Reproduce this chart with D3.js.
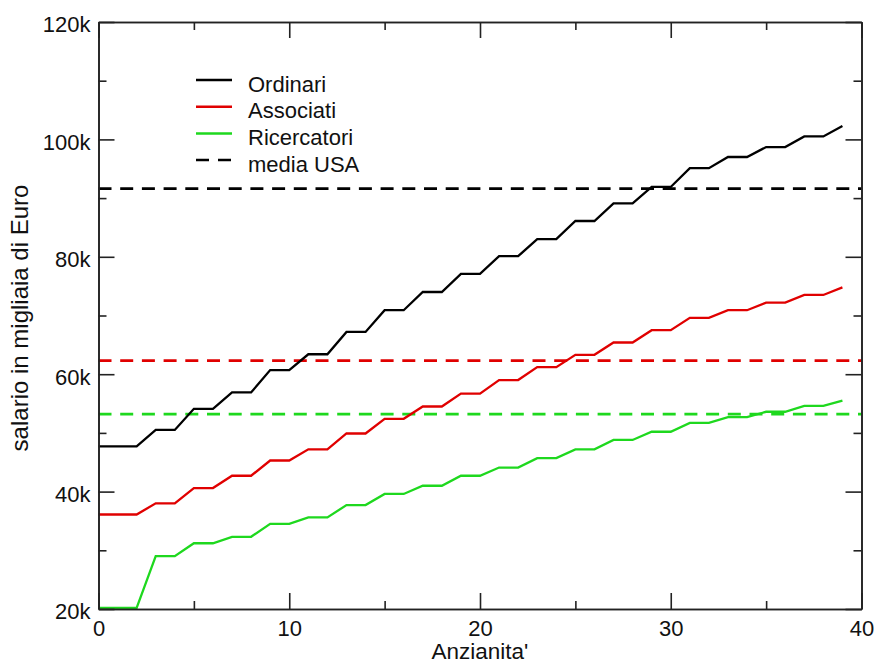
<!DOCTYPE html>
<html lang="it">
<head>
<meta charset="UTF-8">
<title>Salari</title>
<script src="https://d3js.org/d3.v7.min.js"></script>
<style>
  body { margin: 0; background: #fff; }
  text { font-family: "Liberation Sans", Arial, sans-serif; }
</style>
</head>
<body>
<script>
// anni di anzianita'
var anni = [0, 1, 2, 3, 4, 5, 6, 7, 8, 9, 10, 11, 12, 13, 14, 15, 16, 17, 18, 19,
            20, 21, 22, 23, 24, 25, 26, 27, 28, 29, 30, 31, 32, 33, 34, 35, 36, 37, 38, 39];
// salari in migliaia di euro
var ordinari = [47.7, 47.7, 47.7, 50.5, 50.5, 54.1, 54.1, 56.9, 56.9, 60.7, 60.7, 63.4, 63.4,
                67.2, 67.2, 70.9, 70.9, 74.0, 74.0, 77.1, 77.1, 80.1, 80.1, 83.0, 83.0, 86.1, 86.1,
                89.1, 89.1, 91.9, 91.9, 95.1, 95.1, 97.0, 97.0, 98.7, 98.7, 100.5, 100.5, 102.3];
var associati = [36.1, 36.1, 36.1, 38.0, 38.0, 40.6, 40.6, 42.7, 42.7, 45.3, 45.3, 47.2, 47.2,
                 49.9, 49.9, 52.4, 52.4, 54.5, 54.5, 56.7, 56.7, 59.0, 59.0, 61.2, 61.2, 63.3, 63.3,
                 65.4, 65.4, 67.5, 67.5, 69.6, 69.6, 70.9, 70.9, 72.2, 72.2, 73.5, 73.5, 74.8];
var ricercatori = [20.2, 20.2, 20.2, 29.0, 29.0, 31.2, 31.2, 32.3, 32.3, 34.5, 34.5, 35.6, 35.6,
                   37.7, 37.7, 39.6, 39.6, 41.0, 41.0, 42.7, 42.7, 44.1, 44.1, 45.7, 45.7, 47.2, 47.2,
                   48.8, 48.8, 50.2, 50.2, 51.7, 51.7, 52.7, 52.7, 53.6, 53.6, 54.6, 54.6, 55.5];
// media USA per ciascuna categoria
var mediaUSA = [91.6, 62.3, 53.2];
var nomi = ["Ordinari", "Associati", "Ricercatori"];
var colori = ["#000000", "#e00000", "#1ed81e"];
var xTicks = [0, 10, 20, 30, 40];
var xMinor = [5, 15, 25, 35];
var yTicks = [20, 40, 60, 80, 100, 120];
var yMinor = [30, 50, 70, 90, 110];

var width = 877, height = 663;
var margin = {top: 22, right: 15.5, bottom: 54, left: 98.5};

var svg = d3.select("body").append("svg")
    .attr("width", width)
    .attr("height", height);

var x = d3.scaleLinear().domain([0, 40]).range([margin.left, width - margin.right]);
var y = d3.scaleLinear().domain([20, 120]).range([height - margin.bottom, margin.top]);

var serie = [ordinari, associati, ricercatori];

var line = d3.line()
    .x(function(d, i) { return x(anni[i]); })
    .y(function(d) { return y(d); });

// medie USA tratteggiate
svg.selectAll(".media").data(mediaUSA).enter().append("line")
    .attr("class", "media")
    .attr("x1", x(0)).attr("x2", x(40))
    .attr("y1", function(d) { return y(d); })
    .attr("y2", function(d) { return y(d); })
    .attr("stroke", function(d, i) { return colori[i]; })
    .attr("stroke-width", 2.8)
    .attr("stroke-dasharray", "13,8.7");

// curve salariali
svg.selectAll(".serie").data(serie).enter().append("path")
    .attr("class", "serie")
    .attr("d", line)
    .attr("fill", "none")
    .attr("stroke", function(d, i) { return colori[i]; })
    .attr("stroke-width", 2.3)
    .attr("stroke-linejoin", "miter");

// assi
function stile(g) {
    g.selectAll("path").attr("stroke", "#222").attr("stroke-width", 1.6);
    g.selectAll("line").attr("stroke", "#222").attr("stroke-width", 1.6);
    g.selectAll("text").attr("font-size", 22).attr("fill", "#111");
}
var y0 = height - margin.bottom, x0 = margin.left, x1 = width - margin.right;

svg.append("g").attr("transform", "translate(0," + y0 + ")")
    .call(d3.axisBottom(x).tickValues(xTicks).tickSize(-16).tickPadding(11).tickSizeOuter(0))
    .call(stile);
svg.append("g").attr("transform", "translate(0," + y0 + ")")
    .call(d3.axisBottom(x).tickValues(xMinor).tickSize(-8).tickFormat("").tickSizeOuter(0))
    .call(stile);
svg.append("g").attr("transform", "translate(0," + margin.top + ")")
    .call(d3.axisTop(x).tickValues(xTicks).tickSize(-16).tickFormat("").tickSizeOuter(0))
    .call(stile);
svg.append("g").attr("transform", "translate(0," + margin.top + ")")
    .call(d3.axisTop(x).tickValues(xMinor).tickSize(-8).tickFormat("").tickSizeOuter(0))
    .call(stile);

var yAx = svg.append("g").attr("transform", "translate(" + x0 + ",0)")
    .call(d3.axisLeft(y).tickValues(yTicks).tickSize(-16).tickPadding(8).tickSizeOuter(0)
        .tickFormat(function(d) { return d + "k"; }))
    .call(stile);
yAx.selectAll("text").attr("dy", "0.45em");
svg.append("g").attr("transform", "translate(" + x0 + ",0)")
    .call(d3.axisLeft(y).tickValues(yMinor).tickSize(-8).tickFormat("").tickSizeOuter(0))
    .call(stile);
svg.append("g").attr("transform", "translate(" + x1 + ",0)")
    .call(d3.axisRight(y).tickValues(yTicks).tickSize(-16).tickFormat("").tickSizeOuter(0))
    .call(stile);
svg.append("g").attr("transform", "translate(" + x1 + ",0)")
    .call(d3.axisRight(y).tickValues(yMinor).tickSize(-8).tickFormat("").tickSizeOuter(0))
    .call(stile);

// etichette assi
svg.append("text")
    .attr("x", (x0 + x1) / 2).attr("y", 659)
    .attr("text-anchor", "middle")
    .attr("font-size", 22.5).attr("fill", "#111")
    .text("Anzianita'");
svg.append("text")
    .attr("transform", "translate(27.5,318) rotate(-90)")
    .attr("text-anchor", "middle")
    .attr("font-size", 24).attr("fill", "#111")
    .text("salario in migliaia di Euro");

// legenda
var voci = nomi.concat(["media USA"]);
var leg = svg.selectAll(".leg").data(voci).enter().append("g")
    .attr("class", "leg")
    .attr("transform", function(d, i) { return "translate(196," + (80 + i * 26.7) + ")"; });
leg.append("line")
    .attr("x1", 0).attr("x2", 36)
    .attr("stroke", function(d, i) { return i < 3 ? colori[i] : "#000"; })
    .attr("stroke-width", 2.5)
    .attr("stroke-dasharray", function(d, i) { return i < 3 ? null : "13,9"; });
leg.append("text")
    .attr("x", 52).attr("y", 11.5)
    .attr("font-size", 22).attr("fill", "#111")
    .text(function(d) { return d; });
</script>
</body>
</html>
